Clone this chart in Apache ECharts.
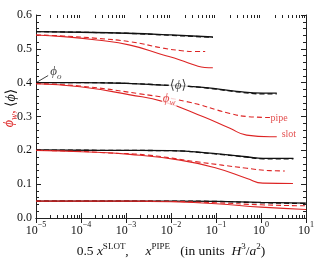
<!DOCTYPE html>
<html><head><meta charset="utf-8">
<script src="https://cdn.jsdelivr.net/npm/echarts@6/dist/echarts.min.js"></script>
<style>html,body{margin:0;padding:0;background:#fff}#c{width:316px;height:258px}</style>
</head><body><div id="c"></div><script>
// ---- data (x given as log10 of x) ----
// group phi_o ~ 0.55
const lxTopBlack = [-5, -4, -3, -2, -1.07];
const blackSlotTop = [0.551, 0.549, 0.546, 0.541, 0.535];
const blackPipeTop = [0.551, 0.549, 0.546, 0.540, 0.534];
const lxTopRedSlot = [-5, -4.39, -3.65, -2.91, -2.17, -1.8, -1.43, -1.25, -1.07];
const redSlotTop = [0.541, 0.536, 0.526, 0.511, 0.482, 0.467, 0.450, 0.445, 0.444];
const lxTopRedPipe = [-5, -4.39, -3.65, -2.91, -2.17, -1.8, -1.5, -1.24];
const redPipeTop = [0.541, 0.538, 0.531, 0.521, 0.502, 0.495, 0.492, 0.492];
// group phi_o = 0.4
const lx40Black = [-5, -4, -3, -2.18, -1.6, -1.06, -0.54, 0.05, 0.35];
const blackSlot40 = [0.400, 0.400, 0.398, 0.393, 0.389, 0.383, 0.374, 0.369, 0.369];
const blackPipe40 = [0.400, 0.400, 0.398, 0.393, 0.389, 0.382, 0.373, 0.367, 0.367];
const lx40RedPipe = [-5, -4.02, -2.69, -1.65, -0.69, -0.32, 0.2];
const redPipe40 = [0.397, 0.390, 0.367, 0.344, 0.309, 0.300, 0.297];
const lx40RedSlot = [-5, -4.02, -2.91, -2.17, -1.28, -0.69, -0.32, 0.2, 0.35];
const redSlot40 = [0.397, 0.388, 0.364, 0.344, 0.299, 0.265, 0.245, 0.240, 0.240];
// group phi_o = 0.2
const lx20Black = [-5, -3.5, -2.02, -1.06, -0.32, 0.05, 0.72];
const blackSlot20 = [0.201, 0.200, 0.199, 0.191, 0.181, 0.176, 0.176];
const blackPipe20 = [0.201, 0.200, 0.199, 0.190, 0.180, 0.175, 0.175];
const lx20RedPipe = [-5, -4, -3.5, -2.53, -1.42, -0.31, 0.2, 0.53];
const redPipe20 = [0.200, 0.197, 0.193, 0.186, 0.166, 0.147, 0.140, 0.139];
const lx20RedSlot = [-5, -4, -2.91, -1.8, -0.98, -0.31, 0.04, 0.71];
const redSlot20 = [0.200, 0.196, 0.188, 0.171, 0.147, 0.117, 0.103, 0.102];
// group phi_o = 0.05
const lx05 = [-5, -3, -2, -1, 0, 1];
const blackSlot05 = [0.050, 0.050, 0.050, 0.049, 0.046, 0.044];
const blackPipe05 = [0.050, 0.050, 0.050, 0.049, 0.045, 0.043];
const redPipe05 = [0.050, 0.050, 0.049, 0.045, 0.039, 0.036];
const redSlot05 = [0.050, 0.050, 0.048, 0.042, 0.032, 0.025];

const yTicks = [0, 0.6, 0.1];        // min, max, step
const xDecades = [-5, 1];           // log10 range

const FONT = '"Liberation Serif","DejaVu Serif",serif';
const RED = '#dd2424';
const BLACK = '#111111';

function pairs(lx, ys) { return lx.map((e, i) => [Math.pow(10, e), ys[i]]); }
function line(lx, ys, color, dashed, w) {
  return { type: 'line', data: pairs(lx, ys), showSymbol: false, symbol: 'none', smooth: 0.5,
    silent: true, animation: false,
    lineStyle: { color: color, width: w, type: dashed ? [5, 3] : 'solid' }, z: dashed ? 3 : 2 };
}

const minorVals = [];
for (let d = xDecades[0]; d < xDecades[1]; d++) for (let k = 2; k <= 9; k++) minorVals.push([k * Math.pow(10, d), 0]);

const supRich = {
  b: { fontFamily: FONT, fontSize: 12, color: BLACK, lineHeight: 16, verticalAlign: 'bottom' },
  s: { fontFamily: FONT, fontSize: 8, color: BLACK, lineHeight: 16, verticalAlign: 'top' }
};
const nameRich = {
  i: { fontFamily: FONT, fontSize: 13.5, fontStyle: 'italic', color: BLACK, lineHeight: 17, verticalAlign: 'bottom' },
  b: { fontFamily: FONT, fontSize: 13.5, color: BLACK, lineHeight: 17, verticalAlign: 'bottom' },
  s: { fontFamily: FONT, fontSize: 9, color: BLACK, lineHeight: 17, verticalAlign: 'top' }
};

const chart = echarts.init(document.getElementById('c'), null, { renderer: 'canvas' });
const xBase = { type: 'log', logBase: 10, min: Math.pow(10, xDecades[0]), max: Math.pow(10, xDecades[1]),
  splitLine: { show: false }, axisLine: { lineStyle: { color: '#222', width: 1 } },
  axisTick: { inside: true, length: 5, lineStyle: { color: '#222' } } };
const yBase = { type: 'value', min: yTicks[0], max: yTicks[1], interval: yTicks[2],
  splitLine: { show: false }, axisLine: { show: true, lineStyle: { color: '#222', width: 1 } },
  axisTick: { inside: true, length: 5, lineStyle: { color: '#222' } },
  minorTick: { show: true, splitNumber: 5, length: 3, lineStyle: { color: '#222' } } };

chart.setOption({
  animation: false,
  backgroundColor: '#fff',
  grid: { left: 36, right: 10, top: 15, bottom: 40, outerBoundsMode: 'none', containLabel: false },
  xAxis: [
    Object.assign({}, xBase, { position: 'bottom',
      axisLabel: { margin: 3, formatter: v => { const e = Math.round(Math.log10(v)); return '{b|10}{s|' + (e < 0 ? '\u2212' : '') + Math.abs(e) + '}'; }, rich: supRich },
      name: '{b|0.5 }{i|x}{s|SLOT}{b|,     }{i|x}{s|PIPE}{b|   (in units  }{i|H}{s|3}{b|/}{i|a}{s|2}{b|)}',
      nameLocation: 'middle', nameGap: 18,
      nameTextStyle: { fontFamily: FONT, fontSize: 13.5, color: BLACK, lineHeight: 17, verticalAlign: 'top', rich: nameRich } }),
    Object.assign({}, xBase, { position: 'top', axisLabel: { show: false } })
  ],
  yAxis: [
    Object.assign({}, yBase, { position: 'left',
      axisLabel: { margin: 4, fontFamily: FONT, fontSize: 12, color: BLACK, formatter: v => v.toFixed(1) } }),
    Object.assign({}, yBase, { position: 'right', axisLabel: { show: false } })
  ],
  series: [
    line(lxTopBlack, blackSlotTop, BLACK, false, 1.3), line(lxTopBlack, blackPipeTop, BLACK, true, 1.3),
    line(lxTopRedSlot, redSlotTop, RED, false, 1.1), line(lxTopRedPipe, redPipeTop, RED, true, 1.1),
    line(lx40Black, blackSlot40, BLACK, false, 1.3), line(lx40Black, blackPipe40, BLACK, true, 1.3),
    line(lx40RedSlot, redSlot40, RED, false, 1.1), line(lx40RedPipe, redPipe40, RED, true, 1.1),
    line(lx20Black, blackSlot20, BLACK, false, 1.3), line(lx20Black, blackPipe20, BLACK, true, 1.3),
    line(lx20RedSlot, redSlot20, RED, false, 1.1), line(lx20RedPipe, redPipe20, RED, true, 1.1),
    line(lx05, blackSlot05, BLACK, false, 1.3), line(lx05, blackPipe05, BLACK, true, 1.3),
    line(lx05, redSlot05, RED, false, 1.1), line(lx05, redPipe05, RED, true, 1.1),
    // leader line for phi_o
    { type: 'line', data: [[1e-5, 0.400], [Math.pow(10, -4.73), 0.421]], symbol: 'none', silent: true,
      lineStyle: { color: BLACK, width: 0.8 }, z: 4 },
    // text annotations
    { type: 'scatter', symbolSize: 0, silent: true, z: 10,
      label: { show: true, position: 'inside', fontFamily: FONT },
      data: [
        { value: [Math.pow(10, -4.56), 0.427], label: { formatter: '{p|\u03d5}{sb|o}',
          rich: { p: { fontFamily: FONT, fontStyle: 'italic', fontSize: 13, color: BLACK, lineHeight: 16, verticalAlign: 'top' },
                  sb: { fontFamily: FONT, fontStyle: 'italic', fontSize: 9, color: BLACK, lineHeight: 16, verticalAlign: 'bottom' } } } },
        { value: [Math.pow(10, -1.84), 0.390], label: { formatter: '{k|\u27e8}{p|\u03d5}{k|\u27e9}', backgroundColor: '#fff', padding: [0, 1],
          rich: { k: { fontFamily: FONT, fontSize: 13, color: BLACK }, p: { fontFamily: FONT, fontStyle: 'italic', fontSize: 13, color: BLACK } } } },
        { value: [Math.pow(10, -2.04), 0.350], label: { formatter: '{p|\u03d5}{sb|w}', backgroundColor: '#fff', padding: [0, 1],
          rich: { p: { fontFamily: FONT, fontStyle: 'italic', fontSize: 13, color: RED, lineHeight: 16, verticalAlign: 'top' },
                  sb: { fontFamily: FONT, fontStyle: 'italic', fontSize: 9, color: RED, lineHeight: 16, verticalAlign: 'bottom' } } } },
        { value: [Math.pow(10, 0.40), 0.294], label: { formatter: 'pipe', fontFamily: FONT, fontSize: 10, color: RED } },
        { value: [Math.pow(10, 0.62), 0.246], label: { formatter: 'slot', fontFamily: FONT, fontSize: 10, color: RED } }
      ] },
    // log minor ticks (bottom and top axes)
    { type: 'custom', silent: true, z: 5, clip: false, data: minorVals,
      renderItem: (params, api) => {
        const v = api.value(0);
        const b = api.coord([v, yTicks[0]]);
        const t = api.coord([v, yTicks[1]]);
        const x = Math.round(b[0]) + 0.5;
        return { type: 'group', children: [
          { type: 'line', shape: { x1: x, y1: b[1], x2: x, y2: b[1] - 3 }, style: { stroke: '#222', lineWidth: 1 } },
          { type: 'line', shape: { x1: x, y1: t[1], x2: x, y2: t[1] + 3 }, style: { stroke: '#222', lineWidth: 1 } }
        ] };
      } }
  ],
  graphic: [
    { type: 'text', x: 11, y: 108, rotation: Math.PI / 2, silent: true,
      style: { text: '{r|\u03d5}{rs|w}{r2|,} {k|\u27e8}{ki|\u03d5}{k|\u27e9}', align: 'center', verticalAlign: 'middle',
        rich: { r: { fontFamily: FONT, fontStyle: 'italic', fontSize: 14, fill: RED, lineHeight: 17, verticalAlign: 'top' },
                rs: { fontFamily: FONT, fontStyle: 'italic', fontSize: 9.5, fill: RED, lineHeight: 17, verticalAlign: 'bottom' },
                r2: { fontFamily: FONT, fontSize: 14, fill: RED, lineHeight: 17 },
                k: { fontFamily: FONT, fontSize: 14, fill: BLACK, lineHeight: 17 },
                ki: { fontFamily: FONT, fontStyle: 'italic', fontSize: 14, fill: BLACK, lineHeight: 17 } } } }
  ]
});
</script></body></html>
